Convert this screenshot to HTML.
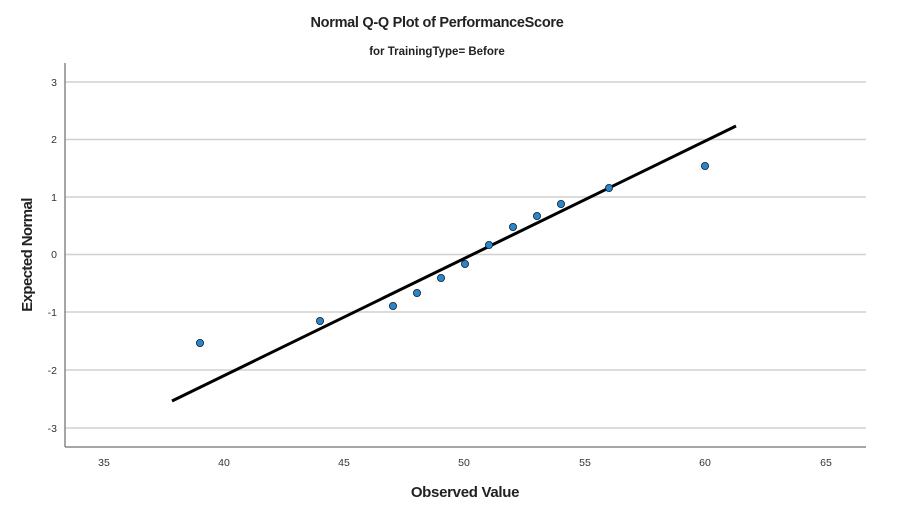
<!DOCTYPE html>
<html><head><style>body{margin:0;background:#fff}</style></head><body>
<svg width="913" height="522" xmlns="http://www.w3.org/2000/svg" font-family="Liberation Sans, Arial, sans-serif">
<rect width="913" height="522" fill="#fff"/>
<text x="437" y="27" text-anchor="middle" font-size="14.5" font-weight="bold" fill="#222" letter-spacing="-0.3">Normal Q-Q Plot of PerformanceScore</text>
<text x="437" y="55" text-anchor="middle" font-size="11.5" font-weight="bold" fill="#222">for TrainingType= Before</text>
<g stroke="#d0d0d0" stroke-width="1.5">
<line x1="65" x2="866" y1="82" y2="82"/><line x1="65" x2="866" y1="139.5" y2="139.5"/>
<line x1="65" x2="866" y1="197" y2="197"/><line x1="65" x2="866" y1="254.5" y2="254.5"/>
<line x1="65" x2="866" y1="312" y2="312"/><line x1="65" x2="866" y1="370" y2="370"/>
<line x1="65" x2="866" y1="428" y2="428"/>
</g>
<line x1="65" y1="63" x2="65" y2="447" stroke="#888" stroke-width="1.5"/>
<line x1="65" y1="447" x2="866" y2="447" stroke="#888" stroke-width="1.5"/>
<g font-size="10.5" fill="#333" text-anchor="end">
<text x="57" y="86">3</text><text x="57" y="143">2</text><text x="57" y="201">1</text><text x="57" y="258">0</text>
<text x="57" y="316">-1</text><text x="57" y="374">-2</text><text x="57" y="432">-3</text>
</g>
<g font-size="10.5" fill="#333" text-anchor="middle">
<text x="104" y="466">35</text><text x="224" y="466">40</text><text x="344" y="466">45</text><text x="464" y="466">50</text>
<text x="585" y="466">55</text><text x="705" y="466">60</text><text x="826" y="466">65</text>
</g>
<text x="465" y="497" text-anchor="middle" font-size="15" font-weight="bold" fill="#222" letter-spacing="-0.3">Observed Value</text>
<text transform="translate(32,255) rotate(-90)" text-anchor="middle" font-size="15" font-weight="bold" fill="#222" letter-spacing="-0.6">Expected Normal</text>
<line x1="172" y1="401" x2="736" y2="126" stroke="#000" stroke-width="3"/>
<g fill="#2a86c8" stroke="#123" stroke-width="0.8">
<circle cx="200" cy="343" r="3.6"/><circle cx="320" cy="321" r="3.6"/><circle cx="393" cy="306" r="3.6"/>
<circle cx="417" cy="293" r="3.6"/><circle cx="441" cy="278" r="3.6"/><circle cx="465" cy="264" r="3.6"/>
<circle cx="489" cy="245" r="3.6"/><circle cx="513" cy="227" r="3.6"/><circle cx="537" cy="216" r="3.6"/>
<circle cx="561" cy="204" r="3.6"/><circle cx="609" cy="188" r="3.6"/><circle cx="705" cy="166" r="3.6"/>
</g>
</svg>
</body></html>
